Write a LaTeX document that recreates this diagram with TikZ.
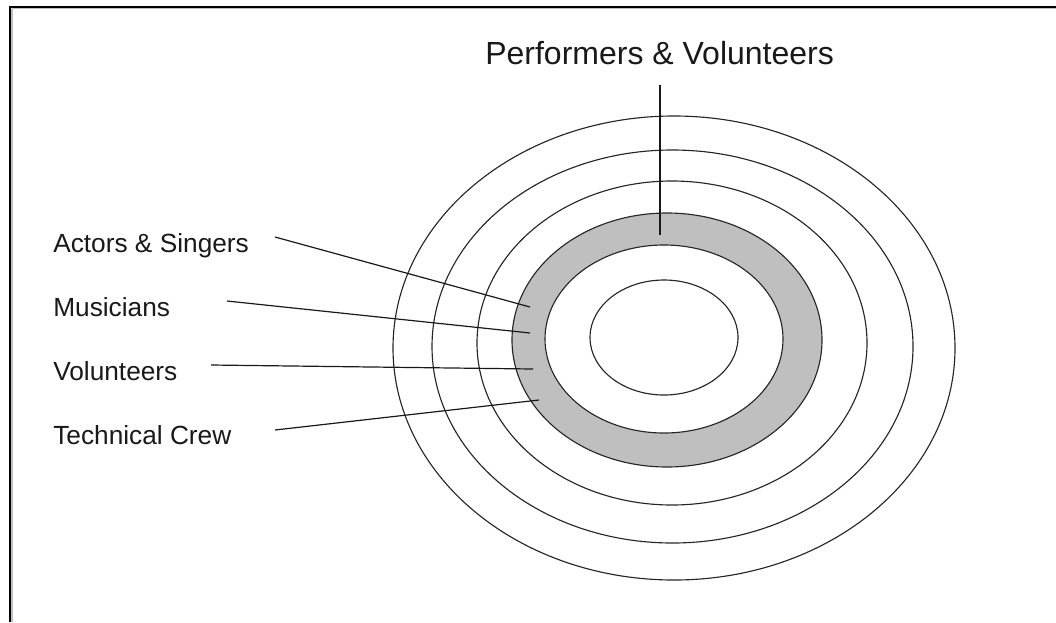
\documentclass[tikz,border=0pt]{standalone}
\usepackage{fontspec}
\setmainfont{Liberation Sans}
\begin{document}
\begin{tikzpicture}[x=0.75pt,y=-0.75pt,
  ring/.style={draw=black!85,line width=0.85pt},
  leader/.style={draw=black!90,line width=0.9pt},
  lbl/.style={inner sep=0pt,anchor=base west,font=\fontsize{19.7pt}{22pt}\selectfont,text=black!90},
  title/.style={inner sep=0pt,anchor=base west,font=\fontsize{24pt}{27pt}\selectfont,text=black!90}]
\useasboundingbox (0,0) rectangle (1056,622);
% frame
\draw[black!25,line width=0.9pt] (12,8.5) -- (1056,8.5);
\draw[black!25,line width=0.9pt] (12,8.5) -- (12,622);
\draw[black,line width=1.5pt] (10,6.5) -- (1056,6.5);
\draw[black,line width=1.5pt] (10,6) -- (10,622);
% rings
\draw[ring] (674,348) ellipse [x radius=210.75pt, y radius=174pt];
\draw[ring] (672.5,346.5) ellipse [x radius=180.375pt, y radius=147.375pt];
\draw[ring] (672,343) ellipse [x radius=146.25pt, y radius=121.5pt];
\fill[black!25] (667,340) ellipse [x radius=116.25pt, y radius=95.25pt];
\fill[white] (664,339) ellipse [x radius=89.25pt, y radius=70.5pt];
\draw[ring] (667,340) ellipse [x radius=116.25pt, y radius=95.25pt];
\draw[ring] (664,339) ellipse [x radius=89.25pt, y radius=70.5pt];
\draw[ring] (664,337.5) ellipse [x radius=55.5pt, y radius=43.125pt];
% labels
\node[title] (perf) at (485,64) {Performers \& Volunteers};
\node[lbl] (actors) at (53,252) {Actors \& Singers};
\node[lbl] (musicians) at (53,316) {Musicians};
\node[lbl] (volunteers) at (53,380) {Volunteers};
\node[lbl] (crew) at (53,444) {Technical Crew};
% leader coordinates
\coordinate (perfS) at (660,85);
\coordinate (perfE) at (660,235);
\coordinate (actS) at (275,237);
\coordinate (actE) at (530,307);
\coordinate (musS) at (227,301);
\coordinate (musE) at (530,333);
\coordinate (volS) at (211,365);
\coordinate (volE) at (533,369);
\coordinate (crewS) at (275,430);
\coordinate (crewE) at (539,400);
\draw[leader] (perfS) -- (perfE);
\draw[leader] (actS) -- (actE);
\draw[leader] (musS) -- (musE);
\draw[leader] (volS) -- (volE);
\draw[leader] (crewS) -- (crewE);
\end{tikzpicture}
\end{document}
